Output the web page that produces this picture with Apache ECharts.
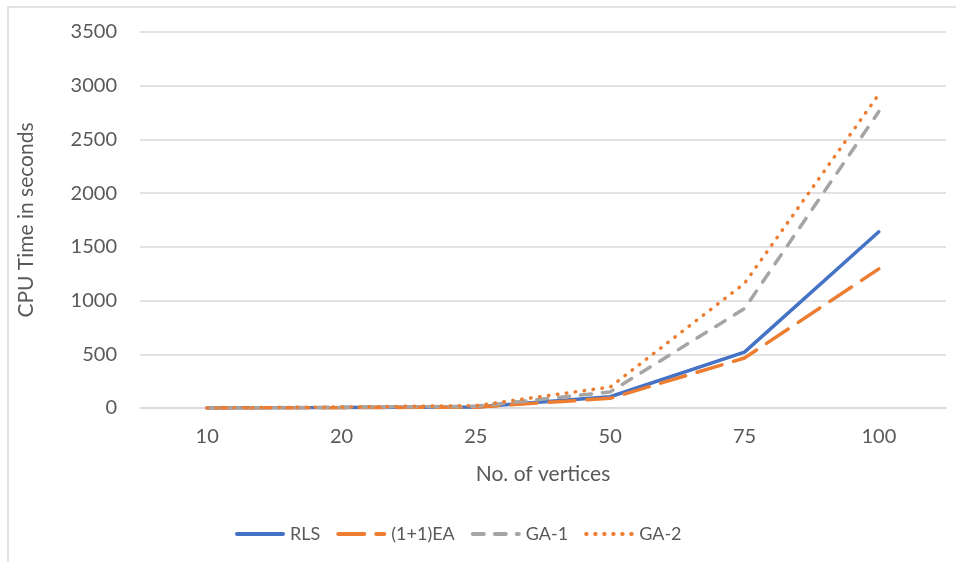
<!DOCTYPE html>
<html>
<head>
<meta charset="utf-8">
<script src="https://cdn.jsdelivr.net/npm/echarts@6/dist/echarts.min.js"></script>
<style>html,body{margin:0;padding:0;background:#fff}#c{width:956px;height:562px}</style>
</head>
<body>
<div id="c"></div>
<script>
const categories = ['10', '20', '25', '50', '75', '100'];
const rls = [0, 4, 10, 105, 520, 1640];
const ea = [0, 3, 8, 90, 465, 1295];
const ga1 = [0, 7, 16, 150, 925, 2760];
const ga2 = [0, 9, 22, 195, 1160, 2920];
const seriesNames = ['RLS', '(1+1)EA', 'GA-1', 'GA-2'];

const FONT = 'Lato';
const TXT = '#595959';
const chart = echarts.init(document.getElementById('c'));
function mk(name, data, color, type, width) {
  return {
    name: name, type: 'line', data: data, symbol: 'none', smooth: false,
    lineStyle: { color: color, width: width, type: type, cap: 'round' },
    itemStyle: { color: color }
  };
}
chart.setOption({
  animation: false,
  textStyle: { fontFamily: FONT },
  graphic: [{
    type: 'rect', shape: { x: 8, y: 7, width: 1000, height: 600 },
    style: { fill: 'none', stroke: '#d9d9d9', lineWidth: 1.5 }, silent: true
  }],
  grid: { left: 140, right: 10, top: 32, bottom: 154, containLabel: false },
  legend: {
    bottom: 14, left: 230, itemWidth: 46, itemHeight: 14, itemGap: 16,
    itemStyle: { opacity: 0 },
    lineStyle: { width: 4 },
    textStyle: { color: TXT, fontSize: 18, fontFamily: FONT, padding: [0, 0, 0, 2] },
    data: seriesNames
  },
  xAxis: {
    type: 'category', data: categories, boundaryGap: true,
    name: 'No. of vertices', nameLocation: 'middle', nameGap: 56,
    nameTextStyle: { color: TXT, fontSize: 21, fontFamily: FONT },
    axisLine: { lineStyle: { color: '#d9d9d9', width: 1.5 } },
    axisTick: { show: false },
    axisLabel: { color: TXT, fontSize: 20, fontFamily: FONT, margin: 19 }
  },
  yAxis: {
    type: 'value', min: 0, max: 3500, interval: 500,
    name: 'CPU Time in seconds', nameLocation: 'middle', nameGap: 103,
    nameTextStyle: { color: TXT, fontSize: 21, fontFamily: FONT },
    axisLine: { show: false }, axisTick: { show: false },
    splitLine: { lineStyle: { color: '#d9d9d9', width: 1.5 } },
    axisLabel: { color: TXT, fontSize: 20, fontFamily: FONT, margin: 23, formatter: function (v) { return String(v); } }
  },
  series: [
    mk(seriesNames[0], rls, '#4472C4', 'solid', 3.5),
    mk(seriesNames[1], ea, '#ED7D31', [26, 12], 3.5),
    mk(seriesNames[2], ga1, '#A5A5A5', [11, 11], 3.5),
    mk(seriesNames[3], ga2, '#ED7D31', [0.5, 8.5], 3.5)
  ]
});
</script>
</body>
</html>
